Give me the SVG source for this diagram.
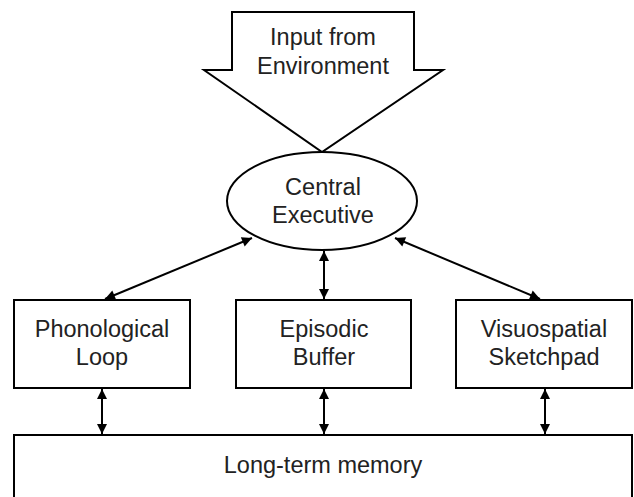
<svg xmlns="http://www.w3.org/2000/svg" width="634" height="497" viewBox="0 0 634 497">
  <defs>
    <marker id="head" viewBox="0 0 10 10" refX="10" refY="5" markerWidth="5.5" markerHeight="5" markerUnits="strokeWidth" orient="auto-start-reverse">
      <path d="M0,0 L10,5 L0,10 Z" fill="#000"/>
    </marker>
  </defs>
  <style>
    .shape { fill: #fff; stroke: #000; stroke-width: 2; }
    .label { font-family: "Liberation Sans", Arial, sans-serif; font-size: 23.5px; fill: #222; text-anchor: middle; }
    .link { stroke: #000; stroke-width: 2; fill: none; marker-start: url(#head); marker-end: url(#head); }
  </style>
  <rect width="634" height="497" fill="#fff"/>

  <g id="input">
    <polygon class="shape" points="232,12 414,12 414,70 443,70 322,152 204,70 232,70"/>
    <text class="label" x="323" y="45">Input from</text>
    <text class="label" x="323" y="74">Environment</text>
  </g>

  <g id="central-executive">
    <ellipse class="shape" cx="322" cy="201" rx="95" ry="49"/>
    <text class="label" x="323" y="195">Central</text>
    <text class="label" x="323" y="223">Executive</text>
  </g>

  <g id="phonological-loop">
    <rect class="shape" x="14" y="300" width="176" height="88"/>
    <text class="label" x="102" y="337">Phonological</text>
    <text class="label" x="102" y="365">Loop</text>
  </g>

  <g id="episodic-buffer">
    <rect class="shape" x="236" y="300" width="175" height="88"/>
    <text class="label" x="324" y="337">Episodic</text>
    <text class="label" x="324" y="365">Buffer</text>
  </g>

  <g id="visuospatial-sketchpad">
    <rect class="shape" x="456" y="300" width="176" height="88"/>
    <text class="label" x="544" y="337">Visuospatial</text>
    <text class="label" x="544" y="365">Sketchpad</text>
  </g>

  <g id="long-term-memory">
    <rect class="shape" x="14" y="435" width="618" height="70"/>
    <text class="label" x="323" y="473">Long-term memory</text>
  </g>

  <g id="connectors">
    <line class="link" x1="252" y1="238" x2="105" y2="299"/>
    <line class="link" x1="324" y1="251" x2="324" y2="299"/>
    <line class="link" x1="395" y1="238" x2="540" y2="299"/>
    <line class="link" x1="102" y1="389" x2="102" y2="434"/>
    <line class="link" x1="324" y1="389" x2="324" y2="434"/>
    <line class="link" x1="545" y1="389" x2="545" y2="434"/>
  </g>
</svg>
